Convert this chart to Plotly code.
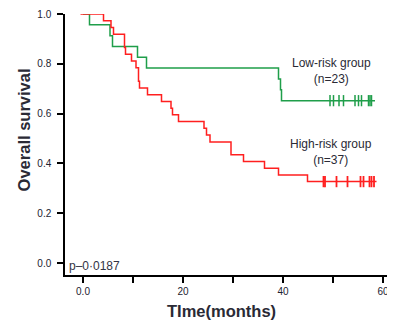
import plotly.graph_objects as go

# Low-risk group (green) step data
low_time = [0, 1.3, 5.4, 5.9, 10.9, 12.7, 39.1, 39.5, 39.7, 58.4]
low_surv = [1.0, 0.957, 0.913, 0.870, 0.826, 0.783, 0.739, 0.696, 0.652, 0.652]
low_cens = [49.4, 50.1, 51.2, 52.1, 54.4, 55.1, 55.7, 57.1, 57.4, 57.7]

# High-risk group (red) step data
high_time = [-0.5, 4.1, 5.6, 6.1, 8.3, 8.5, 9.7, 10.6, 11.1, 11.3, 12.9, 15.7, 17.6, 17.9,
             19.1, 24.2, 24.7, 25.4, 29.6, 32.1, 36.3, 39.1, 44.9, 58.7]
high_surv = [1.0, 0.973, 0.946, 0.919, 0.865, 0.838, 0.811, 0.784, 0.730, 0.703, 0.676, 0.649,
             0.622, 0.595, 0.568, 0.541, 0.514, 0.486, 0.435, 0.408, 0.381, 0.354, 0.327, 0.327]
high_cens = [48.1, 48.4, 50.7, 52.9, 55.5, 56.1, 57.3, 57.7, 58.2]

x_ticks = [0, 10, 20, 30, 40, 50, 60]
x_labels = ["0.0", "", "20", "", "40", "", "60"]
y_ticks = [0, 0.2, 0.4, 0.6, 0.8, 1.0]
y_labels = ["0.0", "0.2", "0.4", "0.6", "0.8", "1.0"]

GREEN = "#1f9e4a"
RED = "#ff1f1f"
TXT = "#2a2a35"
FONT = "Liberation Sans, Arial, sans-serif"

fig = go.Figure()
fig.add_trace(go.Scatter(x=low_time, y=low_surv, mode="lines", line_shape="hv",
                         line=dict(color=GREEN, width=1.5), cliponaxis=False, showlegend=False))
fig.add_trace(go.Scatter(x=high_time, y=high_surv, mode="lines", line_shape="hv",
                         line=dict(color=RED, width=1.5), cliponaxis=False, showlegend=False))
fig.add_trace(go.Scatter(x=low_cens, y=[low_surv[-1]] * len(low_cens), mode="markers",
                         marker=dict(symbol="line-ns", size=8, line=dict(color=GREEN, width=1.5)),
                         cliponaxis=False, showlegend=False))
fig.add_trace(go.Scatter(x=high_cens, y=[high_surv[-1]] * len(high_cens), mode="markers",
                         marker=dict(symbol="line-ns", size=8, line=dict(color=RED, width=1.8)),
                         cliponaxis=False, showlegend=False))

txt = dict(family=FONT, size=12, color=TXT)
fig.add_annotation(x=49.7, y=0.77, text="Low-risk group<br>(n=23)", showarrow=False,
                   font=txt, xanchor="center", yanchor="middle", align="center")
fig.add_annotation(x=49.6, y=0.444, text="High-risk group<br>(n=37)", showarrow=False,
                   font=txt, xanchor="center", yanchor="middle", align="center")
fig.add_annotation(x=-3.2, y=-0.011, text="p–0·0187", showarrow=False,
                   font=dict(family=FONT, size=12, color="#333344"),
                   xanchor="left", yanchor="middle")

# axis titles
fig.add_annotation(xref="paper", yref="paper", x=0, y=0.554, xshift=-41,
                   text="<b>Overall survival</b>", textangle=-90, showarrow=False,
                   font=dict(family=FONT, size=16.5, color=TXT), xanchor="center", yanchor="middle")
fig.add_annotation(xref="paper", yref="paper", x=0.474, y=0, yshift=-36,
                   text="<b>TIme(months)</b>", showarrow=False,
                   font=dict(family=FONT, size=16.5, color=TXT), xanchor="center", yanchor="middle")

# page body adds an 8px offset; size and margins compensate so the plot lands where the reference has it
fig.update_layout(
    width=387, height=314,
    margin=dict(l=57, r=0, t=6, b=47, autoexpand=False),
    plot_bgcolor="white", paper_bgcolor="white",
    font=dict(family=FONT, size=10, color="#222230"),
    xaxis=dict(range=[-3.6, 62.4], tickvals=x_ticks, ticktext=x_labels, automargin=False,
               showline=True, linecolor="black", linewidth=1.5, mirror=False,
               ticks="outside", ticklen=6, tickwidth=2, tickcolor="black",
               showgrid=False, zeroline=False),
    yaxis=dict(range=[-0.048, 1.0], tickvals=y_ticks, ticktext=y_labels, automargin=False,
               showline=True, linecolor="black", linewidth=1.5,
               ticks="outside", ticklen=6, tickwidth=2, tickcolor="black",
               ticklabelstandoff=4,
               showgrid=False, zeroline=False),
)

fig.write_html("out.html")
